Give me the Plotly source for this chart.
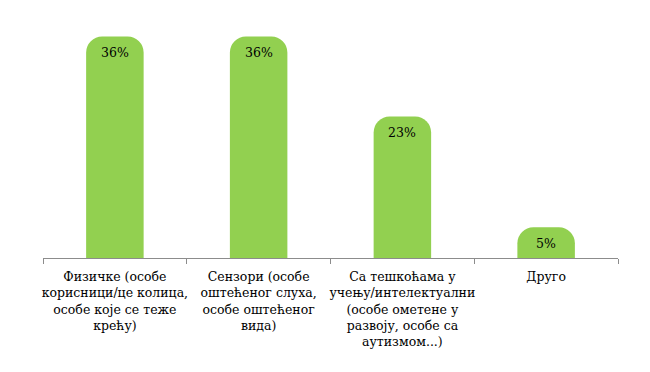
import plotly.graph_objects as go

categories = [
    "Физичке (особе<br>корисници/це колица,<br>особе које се теже<br>крећу)",
    "Сензори (особе<br>оштећеног слуха,<br>особе оштећеног<br>вида)",
    "Са тешкоћама у<br>учењу/интелектуални<br>(особе ометене у<br>развоју, особе са<br>аутизмом...)",
    "Друго",
]
values = [36, 36, 23, 5]
value_labels = [f"{v}%" for v in values]

SERIF = "DejaVu Serif"

fig = go.Figure()
fig.add_trace(go.Bar(
    x=categories,
    y=values,
    marker=dict(color="#92D050", cornerradius=16, line=dict(width=0)),
    width=0.4,
    hoverinfo="skip",
))

for c, v, t in zip(categories, values, value_labels):
    fig.add_annotation(x=c, y=v, text=t, showarrow=False, yanchor="middle",
                       yshift=-16, font=dict(family=SERIF, size=12.5, color="#000000"))

fig.update_layout(
    width=650, height=372,
    margin=dict(l=35, r=40, t=4, b=122),
    paper_bgcolor="white", plot_bgcolor="white",
    showlegend=False,
    font=dict(family=SERIF, size=12.5, color="#000000"),
)
fig.update_xaxes(
    showline=True, linecolor="#8C8C8C", linewidth=1,
    ticks="outside", tickson="boundaries", ticklen=5, tickcolor="#8C8C8C",
    tickangle=0, showgrid=False, ticklabelstandoff=7,
    tickfont=dict(family=SERIF, size=12.5, color="#000000"),
)
fig.update_yaxes(range=[0, 40], visible=False, showgrid=False, zeroline=False)

fig.write_html("out.html")
